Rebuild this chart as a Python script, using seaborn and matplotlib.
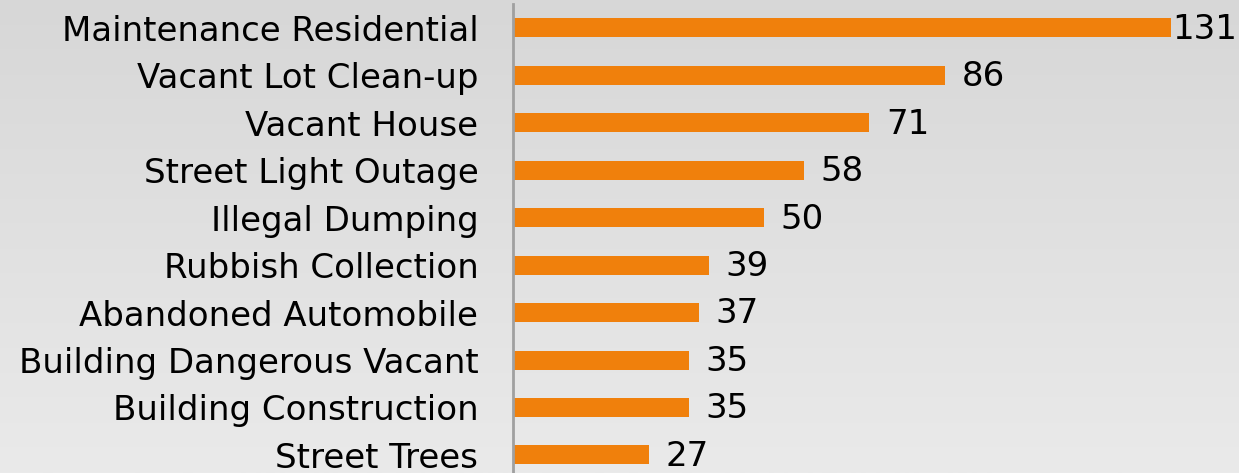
import numpy as np
import pandas as pd
import matplotlib
matplotlib.use("Agg")
import matplotlib.pyplot as plt
import seaborn as sns

categories = [
    "Maintenance Residential",
    "Vacant Lot Clean-up",
    "Vacant House",
    "Street Light Outage",
    "Illegal Dumping",
    "Rubbish Collection",
    "Abandoned Automobile",
    "Building Dangerous Vacant",
    "Building Construction",
    "Street Trees",
]
counts = [131, 86, 71, 58, 50, 39, 37, 35, 35, 27]

df = pd.DataFrame({"Category": categories, "Count": counts})

sns.set_theme(style="white")
plt.rcParams["font.family"] = ["DejaVu Sans"]

fig = plt.figure(figsize=(12.39, 4.73), dpi=100)

# gradient background
bg = fig.add_axes([0, 0, 1, 1], zorder=0)
grad = np.linspace(0, 1, 256).reshape(-1, 1)
bg.imshow(grad, aspect="auto", cmap=matplotlib.colors.LinearSegmentedColormap.from_list(
    "bg", ["#d7d7d7", "#eaeaea"]), extent=[0, 1, 0, 1], origin="upper")
bg.axis("off")

ax = fig.add_axes([513 / 1239, 0, (1239 - 513) / 1239, 469 / 473], zorder=1)
ax.patch.set_alpha(0)
sns.barplot(data=df, x="Count", y="Category", color="#f0800c", width=0.4,
            saturation=1, linewidth=0, ax=ax)

ax.set_xlim(0, 144.6)
ax.set_ylim(9.38, -0.5)
ax.set_xlabel("")
ax.set_ylabel("")
ax.set_xticks([])
for s in ["top", "right", "bottom"]:
    ax.spines[s].set_visible(False)
ax.spines["left"].set_color("#a0a0a0")
ax.spines["left"].set_linewidth(2)
ax.tick_params(axis="y", length=0, pad=25, labelsize=24.5, labelcolor="black")

bars = ax.containers[0]
for rect, v in zip(bars, counts):
    pad = 1 if v == max(counts) else 12
    ax.annotate(f"{v}", (rect.get_width(), rect.get_y() + rect.get_height() / 2),
                xytext=(pad, -1), textcoords="offset points", va="center",
                ha="left", fontsize=24.5, color="black", annotation_clip=False)

fig.savefig("out.png", dpi=100)
